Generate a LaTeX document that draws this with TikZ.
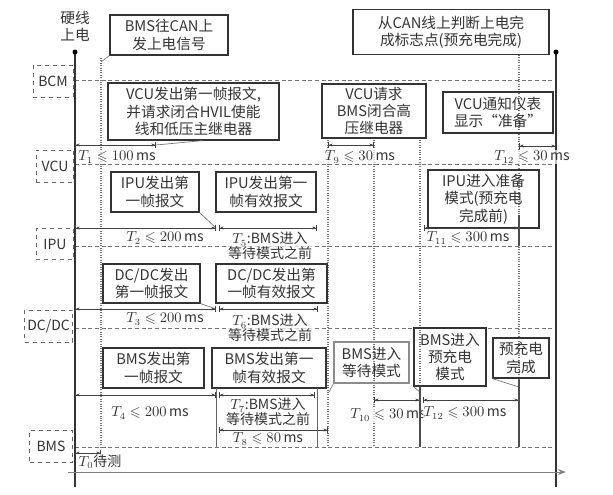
\documentclass[tikz,border=0pt]{standalone}
\usepackage{fontspec}
\usepackage{amssymb}
\setmainfont{Noto Sans CJK SC}
\usetikzlibrary{arrows.meta}
\begin{document}
\begin{tikzpicture}[x=0.75pt,y=-0.75pt,
 box/.style={draw=black!80,line width=0.9pt,align=center,inner sep=1pt,font=\fontsize{11}{13}\selectfont,text=black!80},
 lane/.style={draw=black!60,dashed,line width=0.6pt,align=center,inner sep=1pt,font=\fontsize{10.5}{12}\selectfont,text=black!80},
 grid/.style={black!55,densely dashed,line width=0.6pt},
 vdot/.style={black!55,densely dotted,line width=0.8pt},
 tm/.style={{Bar[width=5pt]Stealth[length=3pt]}-{Stealth[length=3pt]Bar[width=5pt]},black!75,line width=0.5pt},
 lbl/.style={font=\fontsize{10.5}{11}\selectfont,text=black!80,inner sep=0.5pt,fill=white,fill opacity=0.7,text opacity=1},
 ptr/.style={black!55,line width=0.5pt}]
\useasboundingbox (0,0) rectangle (613,494);
% lane lines
\foreach \y in {80,164,246,328,447}{\draw[grid] (75,\y) -- (556,\y);}
% vertical dotted
\foreach \x/\a/\b in {101/58/447, 328/140/447, 374/140/447, 420/140/447, 519/55/447}{\draw[vdot] (\x,\a) -- (\x,\b);}
% lane labels
\node[lane,minimum width=30pt,minimum height=24pt] (bcm) at (53,81) {BCM};
\node[lane,minimum width=28pt,minimum height=24pt] (vcu) at (55,166) {VCU};
\node[lane,minimum width=28pt,minimum height=23pt] (ipu) at (55,244) {IPU};
\node[lane,minimum width=36pt,minimum height=24pt,anchor=east] (dcdc) at (73,326) {DC/DC};
\node[lane,minimum width=32pt,minimum height=24pt] (bms) at (51,446) {BMS};
% main axes
\coordinate (L0) at (75,52); \coordinate (L1) at (75,487);
\coordinate (R0) at (556,52); \coordinate (R1) at (556,487);
\draw[black!80,line width=1.2pt] (L0) -- (L1);
\draw[black!80,line width=1.2pt] (R0) -- (R1);
\fill[black] (L0) circle (2.5); \fill[black] (R0) circle (2.5);
\coordinate (A0) at (68,472); \coordinate (A1) at (566,472);
\draw[black!50,line width=0.7pt,-{Stealth[length=6pt]}] (A0) -- (A1);
\node[font=\fontsize{11}{13}\selectfont,align=center,text=black!80] (hw) at (75,26) {硬线\\上电};
% boxes
\node[box,minimum width=88.5pt,minimum height=30pt] (b1) at (169,35) {BMS往CAN上\\发上电信号};
\node[box,minimum width=147pt,minimum height=33.75pt] (b2) at (451,32) {从CAN线上判断上电完\\成标志点(预充电完成)};
\node[box,minimum width=128.25pt,minimum height=42.75pt] (b3) at (193.5,111.5) {VCU发出第一帧报文,\\并请求闭合HVIL使能\\线和低压主继电器};
\node[box,minimum width=78pt,minimum height=40.5pt] (b4) at (374,111) {VCU请求\\BMS闭合高\\压继电器};
\node[box,minimum width=82.5pt,minimum height=30.75pt] (b5) at (498,112.5) {VCU通知仪表\\显示“准备”};
\node[box,minimum width=66pt,minimum height=30pt] (b6) at (155,192) {IPU发出第\\一帧报文};
\node[box,minimum width=75pt,minimum height=30pt] (b7) at (266,192) {IPU发出第一\\帧有效报文};
\node[box,minimum width=83.25pt,minimum height=43.5pt] (b8) at (483.5,199) {IPU进入准备\\模式(预充电\\完成前)};
\node[box,minimum width=72.75pt,minimum height=29.25pt] (b9) at (151.5,283.5) {DC/DC发出\\第一帧报文};
\node[box,minimum width=83.25pt,minimum height=29.25pt] (b10) at (271.5,283.5) {DC/DC发出第\\一帧有效报文};
\node[box,minimum width=75.75pt,minimum height=30pt] (b11) at (153.5,368) {BMS发出第\\一帧报文};
\node[box,minimum width=85.5pt,minimum height=30pt] (b12) at (269,368) {BMS发出第一\\帧有效报文};
\node[box,draw=black!45,minimum width=56.25pt,minimum height=30.75pt] (b13) at (371.5,362.5) {BMS进入\\等待模式};
\node[box,minimum width=54pt,minimum height=43.5pt] (b14) at (450,357) {BMS进入\\预充电\\模式};
\node[box,minimum width=42pt,minimum height=30pt] (b15) at (521,358) {预充电\\完成};
% pointers
\coordinate (p1) at (101,62); \draw[ptr] (b1.south west) -- (p1);
\coordinate (p3) at (156,145); \draw[ptr] (b3.south west) ++(95,0) -- (p3);
\coordinate (p6) at (216,228); \draw[ptr] (b6.south east) -- (p6);
\coordinate (p9) at (216,309); \draw[ptr] (b9.south east) -- (p9);
\coordinate (p13) at (329,392); \draw[ptr] (b13.south west) -- (p13);
\coordinate (p14) at (420,392); \draw[ptr] (b14.south west) -- (p14);
\coordinate (p15) at (519,387); \draw[ptr] (b15.south west) -- (p15);
% timing arrows
\coordinate (t1a) at (75,145); \coordinate (t1b) at (156,145);
\draw[tm] (t1a) -- (t1b); \node[lbl] (l1) at (117,157) {$T_1\leqslant 100\,$ms};
\coordinate (t9a) at (328,145); \coordinate (t9b) at (374,145);
\draw[tm] (t9a) -- (t9b); \node[lbl] (l9) at (360,157) {$T_9\leqslant 30\,$ms};
\coordinate (t12a) at (519,146); \coordinate (t12b) at (556,146);
\draw[tm] (t12a) -- (t12b); \node[lbl] (l12) at (532,157) {$T_{12}\leqslant 30\,$ms};
\coordinate (t2a) at (75,228); \coordinate (t2b) at (216,228);
\draw[tm] (t2a) -- (t2b); \node[lbl] (l2) at (165,238) {$T_2\leqslant 200\,$ms};
\coordinate (t5a) at (219,228); \coordinate (t5b) at (317,228);
\draw[tm] (t5a) -- (t5b); \node[lbl,align=center] (l5) at (270,246) {$T_5$:BMS进入\\等待模式之前};
\coordinate (t11a) at (424,228); \coordinate (t11b) at (519,228);
\draw[tm] (t11a) -- (t11b); \node[lbl] (l11) at (468,238) {$T_{11}\leqslant 300\,$ms};
\coordinate (t3a) at (75,309); \coordinate (t3b) at (216,309);
\draw[tm] (t3a) -- (t3b); \node[lbl] (l3) at (165,319) {$T_3\leqslant 200\,$ms};
\coordinate (t6a) at (219,309); \coordinate (t6b) at (318,309);
\draw[tm] (t6a) -- (t6b); \node[lbl,align=center] (l6) at (270,328) {$T_6$:BMS进入\\等待模式之前};
\coordinate (t4a) at (75,395); \coordinate (t4b) at (216,395);
\draw[tm] (t4a) -- (t4b); \node[lbl] (l4) at (150,413) {$T_4\leqslant 200\,$ms};
\coordinate (t7a) at (219,395); \coordinate (t7b) at (315,395);
\draw[tm] (t7a) -- (t7b); \node[lbl,align=center] (l7) at (268,412) {$T_7$:BMS进入\\等待模式之前};
\coordinate (t8a) at (219,430); \coordinate (t8b) at (328,430);
\draw[tm] (t8a) -- (t8b); \node[lbl] (l8) at (268,439) {$T_8\leqslant 80\,$ms};
\coordinate (t10a) at (374,400); \coordinate (t10b) at (420,400);
\draw[tm] (t10a) -- (t10b); \node[lbl] (l10) at (388,415) {$T_{10}\leqslant 30\,$ms};
\coordinate (t13a) at (423,400); \coordinate (t13b) at (519,400);
\draw[tm] (t13a) -- (t13b); \node[lbl] (l13) at (465,413) {$T_{12}\leqslant 300\,$ms};
\coordinate (t0a) at (75,453); \coordinate (t0b) at (101,453);
\draw[tm] (t0a) -- (t0b); \node[lbl] (l0) at (100,462) {$T_0$待测};
% solid verticals
\draw[black!70,line width=0.8pt] (420,386) -- (420,447);
\draw[black!70,line width=0.8pt] (519,380) -- (519,447);
\draw[black!70,line width=0.8pt] (519,215) -- (519,246);
\draw[black!60,line width=0.6pt] (216,388) -- (216,447);
\draw[black!60,line width=0.6pt] (317,388) -- (317,447);
\end{tikzpicture}
\end{document}
